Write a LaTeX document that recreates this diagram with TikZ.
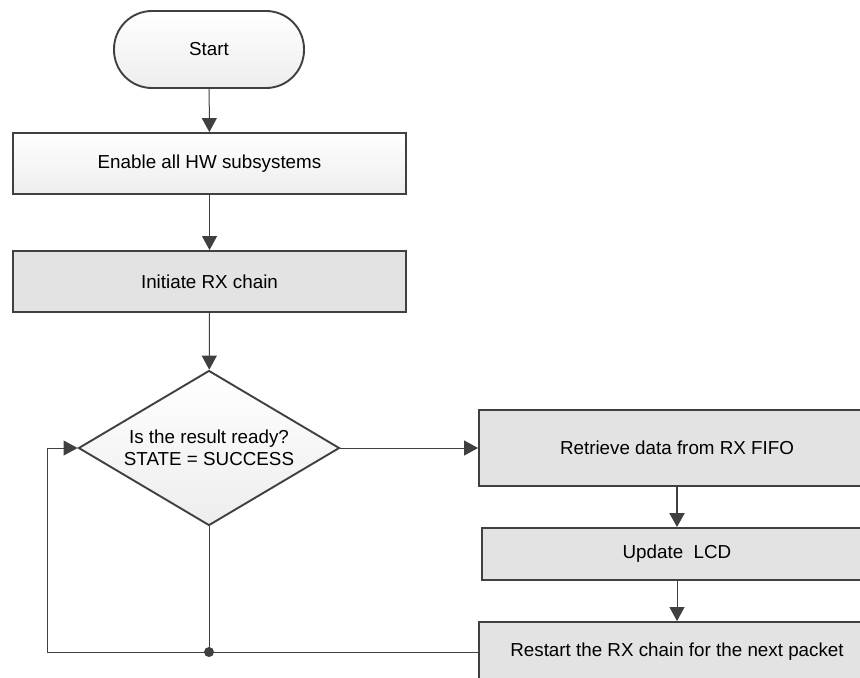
\documentclass[tikz,border=0pt]{standalone}
\usepackage{fontspec}
\setmainfont{Liberation Sans}
\usetikzlibrary{shapes.geometric,arrows.meta}
\definecolor{trait}{RGB}{64,64,64}
\definecolor{fond}{RGB}{227,227,227}

\begin{document}
\begin{tikzpicture}[x=0.5pt,y=-0.5pt,
  every node/.style={font=\fontsize{9.4}{11.2}\selectfont, text=black},
  boite/.style={draw=trait, line width=0.95pt, rectangle, fill=fond, inner sep=0pt},
  claire/.style={top color=white, bottom color=black!7},
  fleche/.style={draw=trait, line width=0.5pt, -{Triangle[length=7pt,width=7.5pt]}}]
\useasboundingbox (0,0) rectangle (860,677);
\clip (0,0) rectangle (860,677);
\node [boite, claire, rounded corners=19pt, minimum width=95pt, minimum height=38.5pt] (start) at (209,49.5) {Start};
\node [boite, claire, minimum width=196.5pt, minimum height=30.5pt] (enable) at (209.5,163.5) {Enable all HW subsystems};
\node [boite, minimum width=196.5pt, minimum height=30.5pt] (init) at (209.5,281.5) {Initiate RX chain};
\node [boite, claire, diamond, aspect=1.68, align=center, minimum width=130.5pt, minimum height=77.5pt] (dec) at (209,448) {Is the result ready?\\STATE = SUCCESS};
\node [boite, minimum width=198pt, minimum height=38pt] (retrieve) at (677,448) {Retrieve data from RX FIFO};
\node [boite, minimum width=195pt, minimum height=26pt] (update) at (677,554) {Update\ \ LCD};
\node [boite, minimum width=198pt, minimum height=30pt] (restart) at (677,652) {Restart the RX chain for the next packet};
\coordinate (lp) at (47,652);
\coordinate (j) at (dec.south |- restart.west);
\draw [fleche] (start) -- (enable);
\draw [fleche] (enable) -- (init);
\draw [fleche] (init) -- (dec);
\draw [fleche] (dec.east) -- (retrieve.west);
\draw [fleche, line width=1pt] (retrieve) -- (update);
\draw [fleche] (update) -- (restart);
\draw [fleche] (restart.west) -- (j) -- (lp) |- (dec.west);
\draw [trait, line width=0.5pt] (dec.south) -- (j);
\fill [trait] (j) circle (2.5pt);
\end{tikzpicture}
\end{document}
